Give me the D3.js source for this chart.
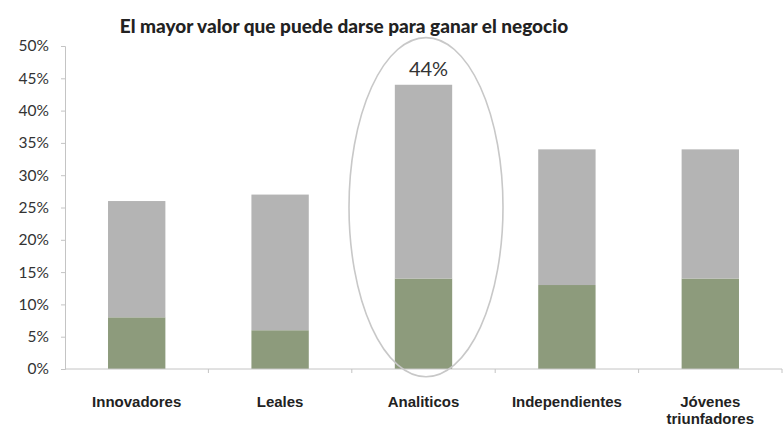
<!DOCTYPE html>
<html>
<head>
<meta charset="utf-8">
<script src="https://cdn.jsdelivr.net/npm/d3@7/dist/d3.min.js"></script>
<style>
  html, body { margin: 0; padding: 0; background: #fff; }
  svg { display: block; }
</style>
</head>
<body>
<svg id="chart" width="783" height="425"></svg>
<script>
// Segment names and their values (percent)
const categories = ["Innovadores", "Leales", "Analiticos", "Independientes", "Jóvenes\ntriunfadores"];
const baseValues = [8, 6, 14, 13, 14];      // green lower segment
const topValues  = [18, 21, 30, 21, 20];    // grey upper segment (total - lower)
const yTicks = [0, 5, 10, 15, 20, 25, 30, 35, 40, 45, 50];
const highlightIndex = 2;
const highlightLabel = "44%";

const svg = d3.select("#chart");
const margin = { left: 65, right: 1, top: 46, bottom: 56 };
const W = 783, H = 425;
const plotBottom = 369;

const x = d3.scaleBand().domain(categories).range([margin.left, W - margin.right]).paddingInner(0.6).paddingOuter(0.3);
const y = d3.scaleLinear().domain([0, 50]).range([plotBottom, margin.top]);

const rows = categories.map((c, i) => ({ cat: c, base: baseValues[i], top: topValues[i] }));
const stack = d3.stack().keys(["base", "top"]);
const series = stack(rows);
const colors = { base: "#8d9b7c", top: "#b4b4b4" };

// Title
svg.append("text")
  .attr("x", 344).attr("y", 33)
  .attr("text-anchor", "middle")
  .style("font-family", "Lato, 'Open Sans', sans-serif")
  .style("font-weight", "900")
  .style("font-size", "19px")
  .style("fill", "#222")
  .text("El mayor valor que puede darse para ganar el negocio");

// Y axis
const yAxis = d3.axisLeft(y).tickValues(yTicks).tickSize(4).tickFormat(d => d + "%");
const gy = svg.append("g").attr("transform", `translate(${margin.left},0)`).call(yAxis);
gy.select(".domain").attr("stroke", "#c4c4c4");
gy.selectAll(".tick line").attr("stroke", "#c4c4c4");
gy.selectAll(".tick text")
  .attr("x", -16)
  .style("font-family", "Lato, 'Open Sans', sans-serif")
  .style("font-size", "15.5px")
  .style("fill", "#333");

// Bars
svg.append("g").selectAll("g").data(series).join("g")
  .attr("fill", s => colors[s.key])
  .selectAll("rect").data(s => s).join("rect")
  .attr("x", d => x(d.data.cat))
  .attr("width", x.bandwidth())
  .attr("y", d => y(d[1]))
  .attr("height", d => y(d[0]) - y(d[1]));

// X axis line with boundary ticks
const bounds = d3.range(categories.length + 1).map(i => margin.left + i * (W - margin.right - margin.left) / categories.length);
svg.append("line")
  .attr("x1", margin.left).attr("x2", W - margin.right)
  .attr("y1", plotBottom).attr("y2", plotBottom)
  .attr("stroke", "#c4c4c4");
svg.append("g").selectAll("line").data(bounds.slice(1)).join("line")
  .attr("x1", d => d).attr("x2", d => d)
  .attr("y1", plotBottom).attr("y2", plotBottom + 4)
  .attr("stroke", "#c4c4c4");

// Category labels
const lab = svg.append("g").selectAll("text").data(categories).join("text")
  .attr("x", d => x(d) + x.bandwidth() / 2)
  .attr("y", 407)
  .attr("text-anchor", "middle")
  .style("font-family", "'Liberation Sans', Arial, sans-serif")
  .style("font-weight", "bold")
  .style("font-size", "15px")
  .style("fill", "#222");
lab.each(function(d) {
  const parts = d.split("\n");
  d3.select(this).selectAll("tspan").data(parts).join("tspan")
    .attr("x", x(d) + x.bandwidth() / 2)
    .attr("dy", (p, i) => i === 0 ? 0 : 16.5)
    .text(p => p);
});

// Highlight ellipse and value label
const hc = categories[highlightIndex];
const total = baseValues[highlightIndex] + topValues[highlightIndex];
const cx = x(hc) + x.bandwidth() / 2;
svg.append("ellipse")
  .attr("cx", cx + 2.5)
  .attr("cy", (y(-1.2) + y(51.3)) / 2)
  .attr("rx", 77)
  .attr("ry", (y(-1.2) - y(51.3)) / 2)
  .attr("fill", "none")
  .attr("stroke", "#c8c8c8")
  .attr("stroke-width", 1.6);
svg.append("text")
  .attr("x", cx + 5)
  .attr("y", y(total) - 9)
  .attr("text-anchor", "middle")
  .style("font-family", "Lato, 'Open Sans', sans-serif")
  .style("font-size", "20px")
  .style("fill", "#333")
  .text(highlightLabel);
</script>
</body>
</html>
